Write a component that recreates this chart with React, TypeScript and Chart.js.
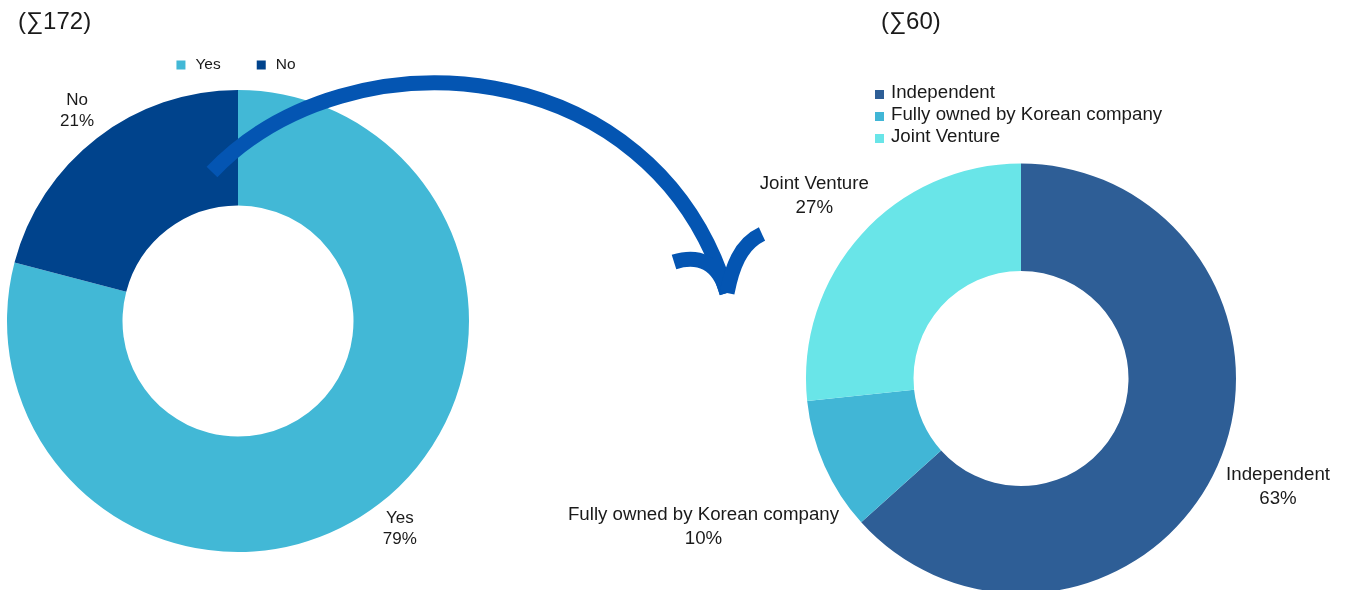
import React, { useEffect, useRef } from 'react';
import { Chart, registerables } from 'chart.js';

Chart.register(...registerables);

// ---- Data ----
const leftTitle = '(∑172)';
const leftCategories = ['Yes', 'No'];
const leftValues = [136, 36];
const leftColors = ['#42B8D6', '#00438C'];

const rightTitle = '(∑60)';
const rightCategories = ['Independent', 'Fully owned by Korean company', 'Joint Venture'];
const rightValues = [38, 6, 16];
const rightColors = ['#2E5E96', '#41B6D6', '#69E5E8'];

// ---- Layout / style ----
const W = 1347;
const H = 590;
const FONT = '"Liberation Sans", Arial, sans-serif';
const TEXT = '#1a1a1a';
const ARROW = '#0455B2';

type LegendCfg = {
  x: number; // left for vertical, centre for horizontal
  y: number;
  horizontal: boolean;
  size: number;
  marker: number;
  textGap: number;
  itemGap: number;
  rowGap: number;
};

type AnnotCfg = {
  title: string;
  titleX: number;
  titleY: number;
  titleSize: number;
  labelSize: number;
  labelLine: number;
  labelOffsets: number[][];
  legend: LegendCfg;
};

const annotatePlugin = {
  id: 'annotate',
  afterDraw(chart: any, _args: any, opts: AnnotCfg) {
    const ctx: CanvasRenderingContext2D = chart.ctx;
    const meta = chart.getDatasetMeta(0);
    const ds = chart.data.datasets[0];
    const labels: string[] = chart.data.labels;
    const colors: string[] = ds.backgroundColor;
    const total = ds.data.reduce((a: number, b: number) => a + b, 0);
    ctx.save();
    ctx.fillStyle = TEXT;
    // Title
    ctx.font = `${opts.titleSize}px ${FONT}`;
    ctx.textAlign = 'left';
    ctx.textBaseline = 'middle';
    ctx.fillText(opts.title, opts.titleX, opts.titleY);

    // Data labels
    ctx.font = `${opts.labelSize}px ${FONT}`;
    ctx.textAlign = 'center';
    meta.data.forEach((arc: any, i: number) => {
      const p = arc.getProps(['x', 'y', 'startAngle', 'endAngle', 'outerRadius'], true);
      const mid = (p.startAngle + p.endAngle) / 2;
      const off = opts.labelOffsets[i] || [0, 0];
      const cx = p.x + Math.cos(mid) * p.outerRadius + off[0];
      const cy = p.y + Math.sin(mid) * p.outerRadius + off[1];
      const pct = Math.round((ds.data[i] / total) * 100) + '%';
      ctx.fillStyle = TEXT;
      ctx.fillText(labels[i], cx, cy - opts.labelLine / 2);
      ctx.fillText(pct, cx, cy + opts.labelLine / 2);
    });

    // Legend
    const lg = opts.legend;
    ctx.font = `${lg.size}px ${FONT}`;
    ctx.textAlign = 'left';
    if (lg.horizontal) {
      const widths = labels.map((l) => ctx.measureText(l).width);
      const totalW =
        widths.reduce((a, w) => a + lg.marker + lg.textGap + w, 0) + lg.itemGap * (labels.length - 1);
      let x = lg.x - totalW / 2;
      labels.forEach((l, i) => {
        ctx.fillStyle = colors[i];
        ctx.fillRect(x, lg.y - lg.marker / 2, lg.marker, lg.marker);
        ctx.fillStyle = TEXT;
        ctx.fillText(l, x + lg.marker + lg.textGap, lg.y);
        x += lg.marker + lg.textGap + widths[i] + lg.itemGap;
      });
    } else {
      labels.forEach((l, i) => {
        const y = lg.y + i * lg.rowGap;
        ctx.fillStyle = colors[i];
        ctx.fillRect(lg.x, y - lg.marker / 2 + 1.5, lg.marker, lg.marker);
        ctx.fillStyle = TEXT;
        ctx.fillText(l, lg.x + lg.marker + lg.textGap, y);
      });
    }
    ctx.restore();
  },
};

function makeDoughnut(
  canvas: HTMLCanvasElement,
  labels: string[],
  values: number[],
  colors: string[],
  radius: number,
  padding: { left: number; right: number; top: number; bottom: number },
  annot: AnnotCfg
) {
  return new Chart(canvas, {
    type: 'doughnut',
    data: {
      labels,
      datasets: [
        {
          data: values,
          backgroundColor: colors,
          borderWidth: 0,
          hoverBorderWidth: 0,
          hoverOffset: 0,
          offset: 0,
        } as any,
      ],
    },
    options: {
      responsive: false,
      animation: false,
      devicePixelRatio: 1,
      radius,
      cutout: '50%',
      events: [],
      layout: { padding },
      plugins: {
        legend: { display: false },
        tooltip: { enabled: false },
        title: { display: false },
        annotate: annot,
      } as any,
    } as any,
    plugins: [annotatePlugin],
  });
}

export default function App() {
  const leftRef = useRef<HTMLCanvasElement>(null);
  const rightRef = useRef<HTMLCanvasElement>(null);

  useEffect(() => {
    const c1 = makeDoughnut(
      leftRef.current!,
      leftCategories,
      leftValues,
      leftColors,
      231,
      { left: 0, right: W - 476, top: 52, bottom: 0 },
      {
        title: leftTitle,
        titleX: 18,
        titleY: 22,
        titleSize: 24,
        labelSize: 17,
        labelLine: 21,
        labelOffsets: [
          [20.7, 25.2],
          [-19.7, -27.7],
        ],
        legend: { x: 236, y: 65, horizontal: true, size: 15.5, marker: 9, textGap: 10, itemGap: 36, rowGap: 0 },
      }
    );
    const c2 = makeDoughnut(
      rightRef.current!,
      rightCategories,
      rightValues,
      rightColors,
      215,
      { left: 695, right: 0, top: 167, bottom: 0 },
      {
        title: rightTitle,
        titleX: 881,
        titleY: 22,
        titleSize: 24,
        labelSize: 18.7,
        labelLine: 24,
        labelOffsets: [
          [60.6, 21.1],
          [-121.1, 60.6],
          [-46.9, -39.1],
        ],
        legend: { x: 875, y: 93, horizontal: false, size: 18.7, marker: 9, textGap: 7, itemGap: 0, rowGap: 22 },
      }
    );
    return () => {
      c1.destroy();
      c2.destroy();
    };
  }, []);

  const abs: React.CSSProperties = { position: 'absolute', left: 0, top: 0 };
  return (
    <div style={{ position: 'absolute', left: 0, top: 0, width: W, height: H, overflow: 'hidden', background: '#fff' }}>
      <canvas ref={leftRef} width={W} height={H} style={{ ...abs, width: W, height: H }} />
      <canvas ref={rightRef} width={W} height={H} style={{ ...abs, width: W, height: H }} />
      <svg width={W} height={H} style={abs}>
        <g fill="none" stroke={ARROW} strokeWidth={15} strokeLinecap="butt">
          <path d="M 212 172 C 350 28, 654.5 52, 727 293" />
          <path d="M 674 262 C 699 254, 719 263, 727 293" />
          <path d="M 762 234 C 740 244, 732 268, 727 293" />
        </g>
      </svg>
    </div>
  );
}
